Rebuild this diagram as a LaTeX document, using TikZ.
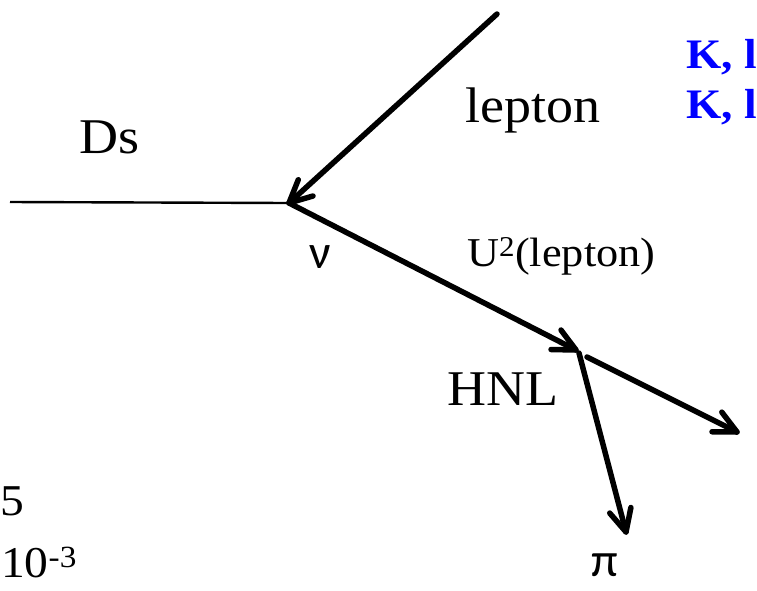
\documentclass[tikz,border=0pt]{standalone}
\usepackage{fontspec}
\setmainfont[FakeStretch=1.08]{Liberation Serif}
\newfontfamily\grk{Carlito}
\usetikzlibrary{calc}
\definecolor{kblue}{RGB}{0,0,255}
\tikzset{
  thick line/.style={line width=5.5pt, line cap=round, line join=round},
  thin line/.style={line width=2.4pt},
  lbl/.style={inner sep=0pt, font=\fontsize{50}{52}\selectfont},
  smlbl/.style={inner sep=0pt, font=\fontsize{41}{43}\selectfont},
  grklbl/.style={inner sep=0pt, font=\grk\fontsize{48}{50}\selectfont},
  bluelbl/.style={inner sep=0pt, text=kblue, font=\bfseries\fontsize{42}{44}\selectfont}
}
\newcommand{\arrowline}[2]{%
  \draw[thick line] (#1) -- (#2);
  \draw[thick line] ($(#2)!25pt!26:(#1)$) -- (#2) -- ($(#2)!25pt!-26:(#1)$);
}
\begin{document}
\begin{tikzpicture}[x=1pt,y=-1pt]
\useasboundingbox (0,0) rectangle (757,590);
\clip (0,0) rectangle (757,590);
\coordinate (ds) at (10,202);
\coordinate (v) at (289,203);
\coordinate (lin) at (497,14);
\coordinate (h) at (576,350);
\coordinate (d1s) at (579,353);
\coordinate (d1e) at (626,532);
\coordinate (d2s) at (587,357);
\coordinate (d2e) at (737,432);
\draw[thin line] (ds) -- (v);
\arrowline{lin}{v}
\arrowline{v}{h}
\arrowline{d1s}{d1e}
\arrowline{d2s}{d2e}
\node[lbl, anchor=base] (dsl) at (110,153) {Ds};
\node[lbl, anchor=base west] (lep) at (465,122) {lepton};
\node[grklbl, anchor=base] (nu) at (320,268) {ν};
\node[smlbl, anchor=base west] (u2) at (467,266) {U\textsuperscript{2}(lepton)};
\node[lbl, anchor=base west] (hnl) at (447,405) {HNL};
\node[grklbl, anchor=base] (pi) at (605,576) {π};
\node[bluelbl, anchor=base west] (k1) at (686,68) {K, l};
\node[bluelbl, anchor=base west] (k2) at (686,118) {K, l};
\node[lbl, font=\fontsize{44}{46}\selectfont, anchor=base west] (five) at (0,515) {5};
\node[lbl, font=\fontsize{44}{46}\selectfont, anchor=base west] (exp) at (1,577) {10\textsuperscript{-3}};
\end{tikzpicture}
\end{document}
